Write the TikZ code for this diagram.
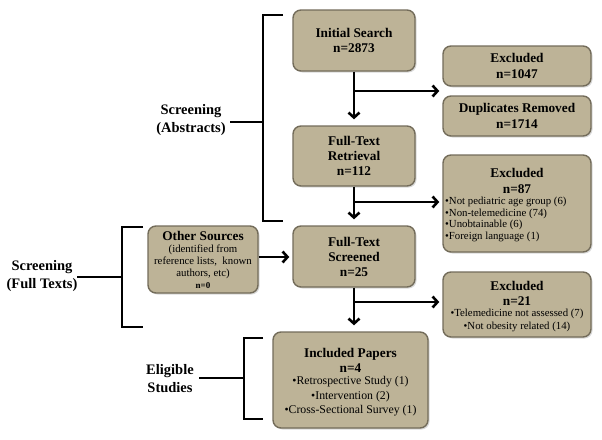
\documentclass[tikz,border=0pt]{standalone}
\usepackage{fontspec}
\setmainfont{Liberation Serif}
\usetikzlibrary{arrows.meta,shadows}
\definecolor{boxfill}{HTML}{BDB397}
\definecolor{boxedge}{HTML}{736C5A}
\begin{document}
\begin{tikzpicture}[x=1pt,y=-1pt,
 box/.style={draw=boxedge, line width=1.4pt, fill=boxfill, rounded corners=8pt, inner sep=0pt, align=center,
   drop shadow={shadow xshift=1.5pt,shadow yshift=-1.5pt,opacity=0.3}},
 ttl/.style={font=\fontsize{13.3}{15.5}\selectfont\bfseries, align=center, inner sep=0pt},
 lst/.style={font=\fontsize{10.8}{11.8}\selectfont, inner sep=0pt},
 arr/.style={line width=2.6pt, -{Straight Barb[length=5pt,width=11pt]}},
 brk/.style={line width=2.6pt, line join=miter},
 lbl/.style={font=\fontsize{14.5}{18}\selectfont\bfseries, align=center, inner sep=0pt}]
\useasboundingbox (0,0) rectangle (602,439);

% boxes
\node[box, ttl, minimum width=122pt, minimum height=61pt] (init) at (354,40.5) {Initial Search\\n=2873};
\node[box, ttl, minimum width=148pt, minimum height=40pt] (exc1) at (517,66) {Excluded\\n=1047};
\node[box, ttl, minimum width=148pt, minimum height=40pt] (dup) at (517,116) {Duplicates Removed\\n=1714};
\node[box, ttl, font=\fontsize{13.3}{15}\selectfont\bfseries, minimum width=122pt, minimum height=60pt] (ftr) at (354,156) {Full-Text\\Retrieval\\n=112};
\node[box, minimum width=148pt, minimum height=97pt] (exc2) at (517,203.5) {};
\node[box, ttl, font=\fontsize{13.3}{15}\selectfont\bfseries, minimum width=122pt, minimum height=61pt] (fts) at (354,256.5) {Full-Text\\Screened\\n=25};
\node[box, minimum width=148pt, minimum height=65pt] (exc3) at (517,304.5) {};
\node[box, minimum width=155pt, minimum height=96pt] (inc) at (350.5,380) {};
\node[box, minimum width=110pt, minimum height=67pt] (oth) at (203,259.5) {};

% texts in composite boxes
\node[ttl, font=\fontsize{13.3}{16}\selectfont\bfseries] (exc2t) at (517,181) {Excluded\\n=87};
\node[lst, align=left, anchor=west] (exc2l) at (445,219.5) {•Not pediatric age group (6)\\•Non-telemedicine (74)\\•Unobtainable (6)\\•Foreign language (1)};
\node[ttl] (exc3t) at (517,293.5) {Excluded\\n=21};
\node[lst, align=center, font=\fontsize{10.8}{13}\selectfont] (exc3l) at (517,320.5) {•Telemedicine not assessed (7)\\•Not obesity related (14)};
\node[ttl, font=\fontsize{13.3}{15}\selectfont\bfseries] (inct) at (350.5,360.5) {Included Papers\\n=4};
\node[lst, align=center, font=\fontsize{11.8}{14.5}\selectfont] (incl) at (350.5,396.5) {•Retrospective Study (1)\\•Intervention (2)\\•Cross-Sectional Survey (1)};
\node[ttl] (otht) at (203,236) {Other Sources};
\node[lst, align=center, font=\fontsize{10.8}{12}\selectfont] (othl) at (203,262) {(identified from\\reference lists,\ \ known\\authors, etc)};
\node[ttl, font=\fontsize{9}{10}\selectfont\bfseries] (othn) at (203,286) {n=0};

% arrows
\coordinate (b1) at (354,91);
\coordinate (b2) at (354,202);
\coordinate (b3) at (354,302);
\draw[arr, shorten >=6pt] (init.south) -- (ftr.north);
\draw[arr, shorten >=3pt] (b1) -- (b1 -| exc1.west);
\draw[arr, shorten >=6pt] (ftr.south) -- (fts.north);
\draw[arr, shorten >=3pt] (b2) -- (b2 -| exc2.west);
\draw[arr, shorten >=6pt] (fts.south) -- (fts.south |- inc.north);
\draw[arr, shorten >=3pt] (b3) -- (b3 -| exc3.west);
\draw[arr, shorten >=3pt] (oth.east |- 0,257) -- (fts.west |- 0,257);

% brackets and labels
\node[lbl] (lA) at (191,120) {Screening\\(Abstracts)};
\coordinate (bA) at (263,122);
\coordinate (sA) at (230,122);
\draw[brk] (283,15) -- (263,15) -- (263,221) -- (283,221);
\draw[brk] (sA) -- (bA);

\node[lbl] (lF) at (42,276) {Screening\\(Full Texts)};
\coordinate (bF) at (122,277);
\coordinate (sF) at (77,277);
\draw[brk] (143,227) -- (122,227) -- (122,327) -- (143,327);
\draw[brk] (sF) -- (bF);

\node[lbl] (lE) at (170,379) {Eligible\\Studies};
\coordinate (bE) at (244,378);
\coordinate (sE) at (199,378);
\draw[brk] (263,338) -- (244,338) -- (244,419) -- (263,419);
\draw[brk] (sE) -- (bE);
\end{tikzpicture}
\end{document}
